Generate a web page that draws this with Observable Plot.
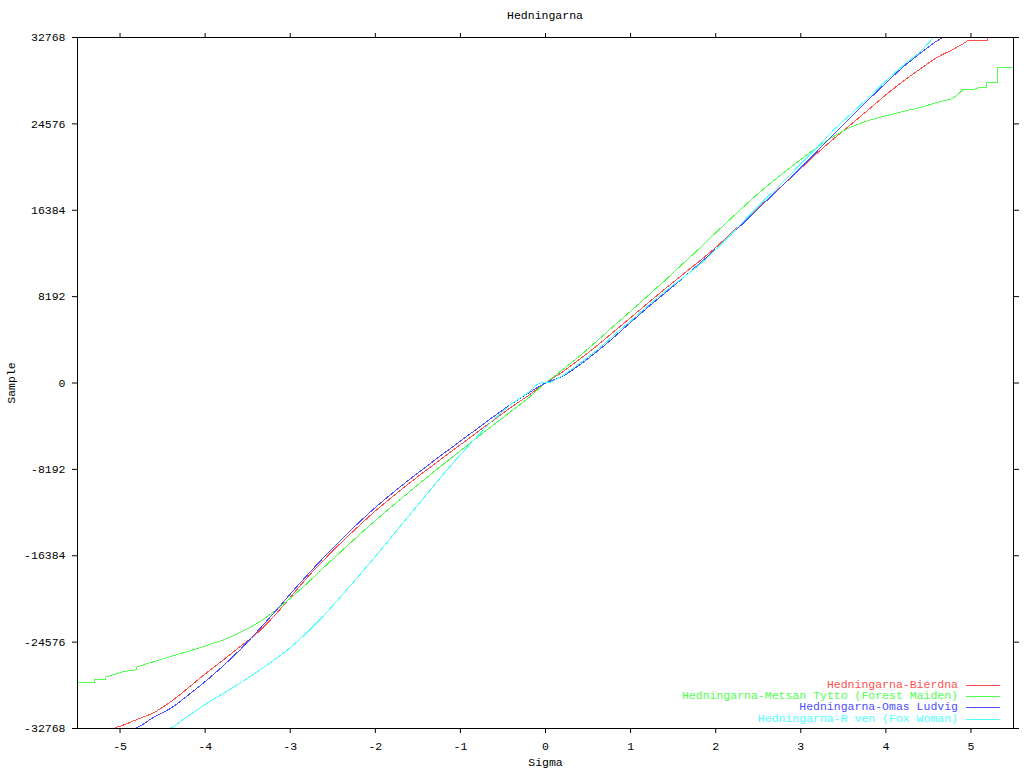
<!DOCTYPE html>
<html>
<head>
<meta charset="utf-8">
<script src="https://cdn.jsdelivr.net/npm/d3@7"></script>
<script src="https://cdn.jsdelivr.net/npm/@observablehq/plot@0.6"></script>
<style>
  body { margin: 0; background: #fff; }
  #wrap { position: relative; width: 1024px; height: 768px; font-family: "Liberation Mono", "DejaVu Sans Mono", monospace; font-size: 11.5px; color: #000; }
  #title { height: 32px; line-height: 32px; width: 1090px; text-align: center; }
  .leg { position: absolute; right: 66px; height: 12px; line-height: 12px; white-space: pre; }
  .legline { position: absolute; left: 966px; width: 34px; height: 1px; }
</style>
</head>
<body>
<div id="wrap">
  <div id="title">Hedningarna</div>
  <div id="chart"></div>
</div>
<script>
// Series names (legend text, as shown)
const seriesNames = [
  "Hedningarna-Bierdna",
  "Hedningarna-Metsan Tytto (Forest Maiden)",
  "Hedningarna-Omas Ludvig",
  "Hedningarna-R ven (Fox Woman)"
];
const seriesColors = ["#ff5050", "#50ff50", "#5050ff", "#50ffff"];

// Tick values
const xTicks = [-5, -4, -3, -2, -1, 0, 1, 2, 3, 4, 5];
const yTicks = [-32768, -24576, -16384, -8192, 0, 8192, 16384, 24576, 32768];

// ---- Bierdna (red) ----
const bierdnaLowSigma = [-5.19, -5.055, -5.055, -5.0];
const bierdnaLowValue = [-32768, -32768, -32650, -32574];
const bierdnaSigma = [-5.0,-4.8,-4.6,-4.4,-4.2,-4.0,-3.8,-3.6,-3.4,-3.2,-3.0,-2.8,-2.6,-2.4,-2.2,-2.0,-1.8,-1.6,-1.4,-1.2,-1.0,-0.8,-0.6,-0.4,-0.2,0,0.2,0.4,0.6,0.8,1.0,1.2,1.4,1.6,1.8,2.0,2.2,2.4,2.6,2.8,3.0,3.2,3.4,3.6,3.8,4.0,4.2,4.4,4.6,4.8];
const bierdnaValue = [-32574,-31910,-31246,-30203,-28926,-27598,-26347,-25066,-23805,-22193,-20343,-18446,-16739,-15127,-13610,-12140,-10793,-9503,-8261,-7047,-5852,-4657,-3462,-2276,-1186,0,1050,2250,3500,4850,6200,7550,8900,10200,11500,12850,14350,15850,17350,18850,20350,21850,23250,24600,25950,27330,28600,29760,30870,31660];
const bierdnaHighSigma = [4.8, 4.84, 4.9, 4.96, 5.2, 5.2, 5.33];
const bierdnaHighValue = [31660, 31885, 32130, 32455, 32511, 32768, 32768];

// ---- Metsan Tytto (green) ----
const metsanLowSigma = [-5.506,-5.302,-5.302,-5.173,-5.173,-5.044,-4.957,-4.808,-4.808,-4.6];
const metsanLowValue = [-28404,-28404,-28150,-28150,-27900,-27580,-27361,-27200,-26953,-26413];
const metsanSigma = [-4.6,-4.4,-4.2,-4.0,-3.8,-3.6,-3.4,-3.2,-3.0,-2.8,-2.6,-2.4,-2.2,-2.0,-1.8,-1.6,-1.4,-1.2,-1.0,-0.8,-0.6,-0.4,-0.2,0,0.2,0.4,0.6,0.8,1.0,1.2,1.4,1.6,1.8,2.0,2.2,2.4,2.6,2.8,3.0,3.2,3.4,3.6,3.8,4.0,4.2,4.4,4.6,4.785];
const metsanValue = [-26413,-25930,-25450,-24950,-24400,-23720,-22850,-21750,-20420,-18987,-17451,-15952,-14482,-13050,-11665,-10319,-9000,-7701,-6421,-5150,-3898,-2665,-1404,0,1250,2550,3950,5400,6800,8250,9700,11200,12700,14250,15750,17250,18650,19950,21200,22400,23450,24300,24900,25340,25750,26130,26600,26983];
const metsanHighSigma = [4.785,4.874,4.902,5.04,5.098,5.185,5.185,5.314,5.314,5.53];
const metsanHighValue = [26983,27550,27804,27867,28025,28025,28500,28500,29922,29922];

// ---- Omas Ludvig (blue) ----
const omasLowSigma = [-4.96, -4.82, -4.72];
const omasLowValue = [-32768, -32768, -32322];
const omasSigma = [-4.72,-4.6,-4.4,-4.2,-4.0,-3.8,-3.6,-3.4,-3.2,-3.0,-2.8,-2.6,-2.4,-2.2,-2.0,-1.8,-1.6,-1.4,-1.2,-1.0,-0.8,-0.6,-0.4,-0.2,0,0.2,0.4,0.6,0.8,1.0,1.2,1.4,1.6,1.8,2.0,2.2,2.4,2.6,2.8,3.0,3.2,3.4,3.6,3.8,4.0,4.2,4.4,4.6];
const omasValue = [-32322,-31676,-30823,-29609,-28319,-26916,-25379,-23681,-21880,-20021,-18219,-16493,-14852,-13287,-11808,-10451,-9162,-7919,-6705,-5510,-4315,-3130,-1992,-948,0,620,1720,2950,4300,5750,7150,8500,9850,11250,12700,14200,15750,17300,18850,20400,22050,23700,25300,26900,28450,29950,31250,32450];
const omasHighSigma = [4.6, 4.67, 4.84];
const omasHighValue = [32450, 32768, 32768];

// ---- R ven (cyan) ----
const ravenLowSigma = [-4.576, -4.427, -4.37];
const ravenLowValue = [-32768, -32768, -32580];
const ravenSigma = [-4.37,-4.2,-4.0,-3.8,-3.6,-3.4,-3.2,-3.0,-2.8,-2.6,-2.4,-2.2,-2.0,-1.8,-1.6,-1.4,-1.2,-1.0,-0.8,-0.6,-0.4,-0.2,-0.1,-0.05,0.05,0.2,0.4,0.6,0.8,1.0,1.2,1.4,1.6,1.8,2.0,2.2,2.4,2.6,2.8,3.0,3.2,3.4,3.6,3.8,4.0,4.2,4.4];
const ravenValue = [-32580,-31582,-30491,-29495,-28518,-27456,-26347,-25104,-23653,-22003,-20201,-18351,-16455,-14501,-12547,-10603,-8649,-6800,-5045,-3395,-2001,-873,-150,0,50,700,1850,3100,4500,5900,7300,8650,9900,11150,12650,14250,15950,17550,19150,20780,22400,24100,25600,27100,28660,30080,31350];
const ravenHighSigma = [4.4, 4.56, 4.74];
const ravenHighValue = [31350, 32768, 32768];

const parts = [
  {name: seriesNames[0], body: [bierdnaSigma, bierdnaValue], tails: [[bierdnaLowSigma, bierdnaLowValue], [bierdnaHighSigma, bierdnaHighValue]]},
  {name: seriesNames[1], body: [metsanSigma, metsanValue], tails: [[metsanLowSigma, metsanLowValue], [metsanHighSigma, metsanHighValue]]},
  {name: seriesNames[2], body: [omasSigma, omasValue], tails: [[omasLowSigma, omasLowValue], [omasHighSigma, omasHighValue]]},
  {name: seriesNames[3], body: [ravenSigma, ravenValue], tails: [[ravenLowSigma, ravenLowValue], [ravenHighSigma, ravenHighValue]]}
];

const bodyData = [], tailData = [];
parts.forEach(p => {
  const [s, v] = p.body;
  if (s.length !== v.length) console.error("body length mismatch", p.name, s.length, v.length);
  s.forEach((sg, j) => bodyData.push({series: p.name, key: p.name, sigma: sg, value: v[j]}));
  p.tails.forEach(([ts, tv], k) => {
    if (ts.length !== tv.length) console.error("tail length mismatch", p.name, k);
    ts.forEach((sg, j) => tailData.push({series: p.name, key: p.name + "#" + k, sigma: sg, value: tv[j]}));
  });
});

const fmt = d => String(d);

const chart = Plot.plot({
  width: 1024,
  height: 736,
  marginLeft: 77,
  marginRight: 11,
  marginTop: 5,
  marginBottom: 40,
  style: {fontFamily: '"Liberation Mono", "DejaVu Sans Mono", monospace', fontSize: "11.5px", color: "#000", background: "#fff"},
  x: {domain: [-5.5, 5.5]},
  y: {domain: [-32768, 32768]},
  color: {domain: seriesNames, range: seriesColors},
  marks: [
    Plot.axisY(yTicks, {anchor: "left", tickSize: 5, tickPadding: 7, tickFormat: fmt, label: "Sample", labelAnchor: "center", labelOffset: 71, labelArrow: "none"}),
    Plot.axisY(yTicks, {anchor: "right", tickSize: 5, tickFormat: () => "", label: null}),
    Plot.axisX(xTicks, {anchor: "bottom", tickSize: 5, tickPadding: 8, tickFormat: fmt, label: "Sigma", labelAnchor: "center", labelOffset: 37, labelArrow: "none"}),
    Plot.axisX(xTicks, {anchor: "top", tickSize: 5, tickFormat: () => "", label: null}),
    Plot.line(tailData, {x: "sigma", y: "value", z: "key", stroke: "series", strokeWidth: 1, clip: true, shapeRendering: "crispEdges"}),
    Plot.line(bodyData, {x: "sigma", y: "value", z: "key", stroke: "series", strokeWidth: 1, curve: "catmull-rom", clip: true, shapeRendering: "crispEdges"}),
    Plot.frame({stroke: "#000", shapeRendering: "crispEdges"})
  ]
});
document.getElementById("chart").appendChild(chart);

// Legend inside plot area (bottom right)
const wrap = document.getElementById("wrap");
const rowY = [685, 696, 707.3, 718.7];
seriesNames.forEach((name, i) => {
  const t = document.createElement("div");
  t.className = "leg";
  t.style.top = (rowY[i] - 6) + "px";
  t.style.color = seriesColors[i];
  t.textContent = name;
  wrap.appendChild(t);
  const l = document.createElement("div");
  l.className = "legline";
  l.style.top = Math.round(rowY[i]) + "px";
  l.style.background = seriesColors[i];
  wrap.appendChild(l);
});
</script>
</body>
</html>
